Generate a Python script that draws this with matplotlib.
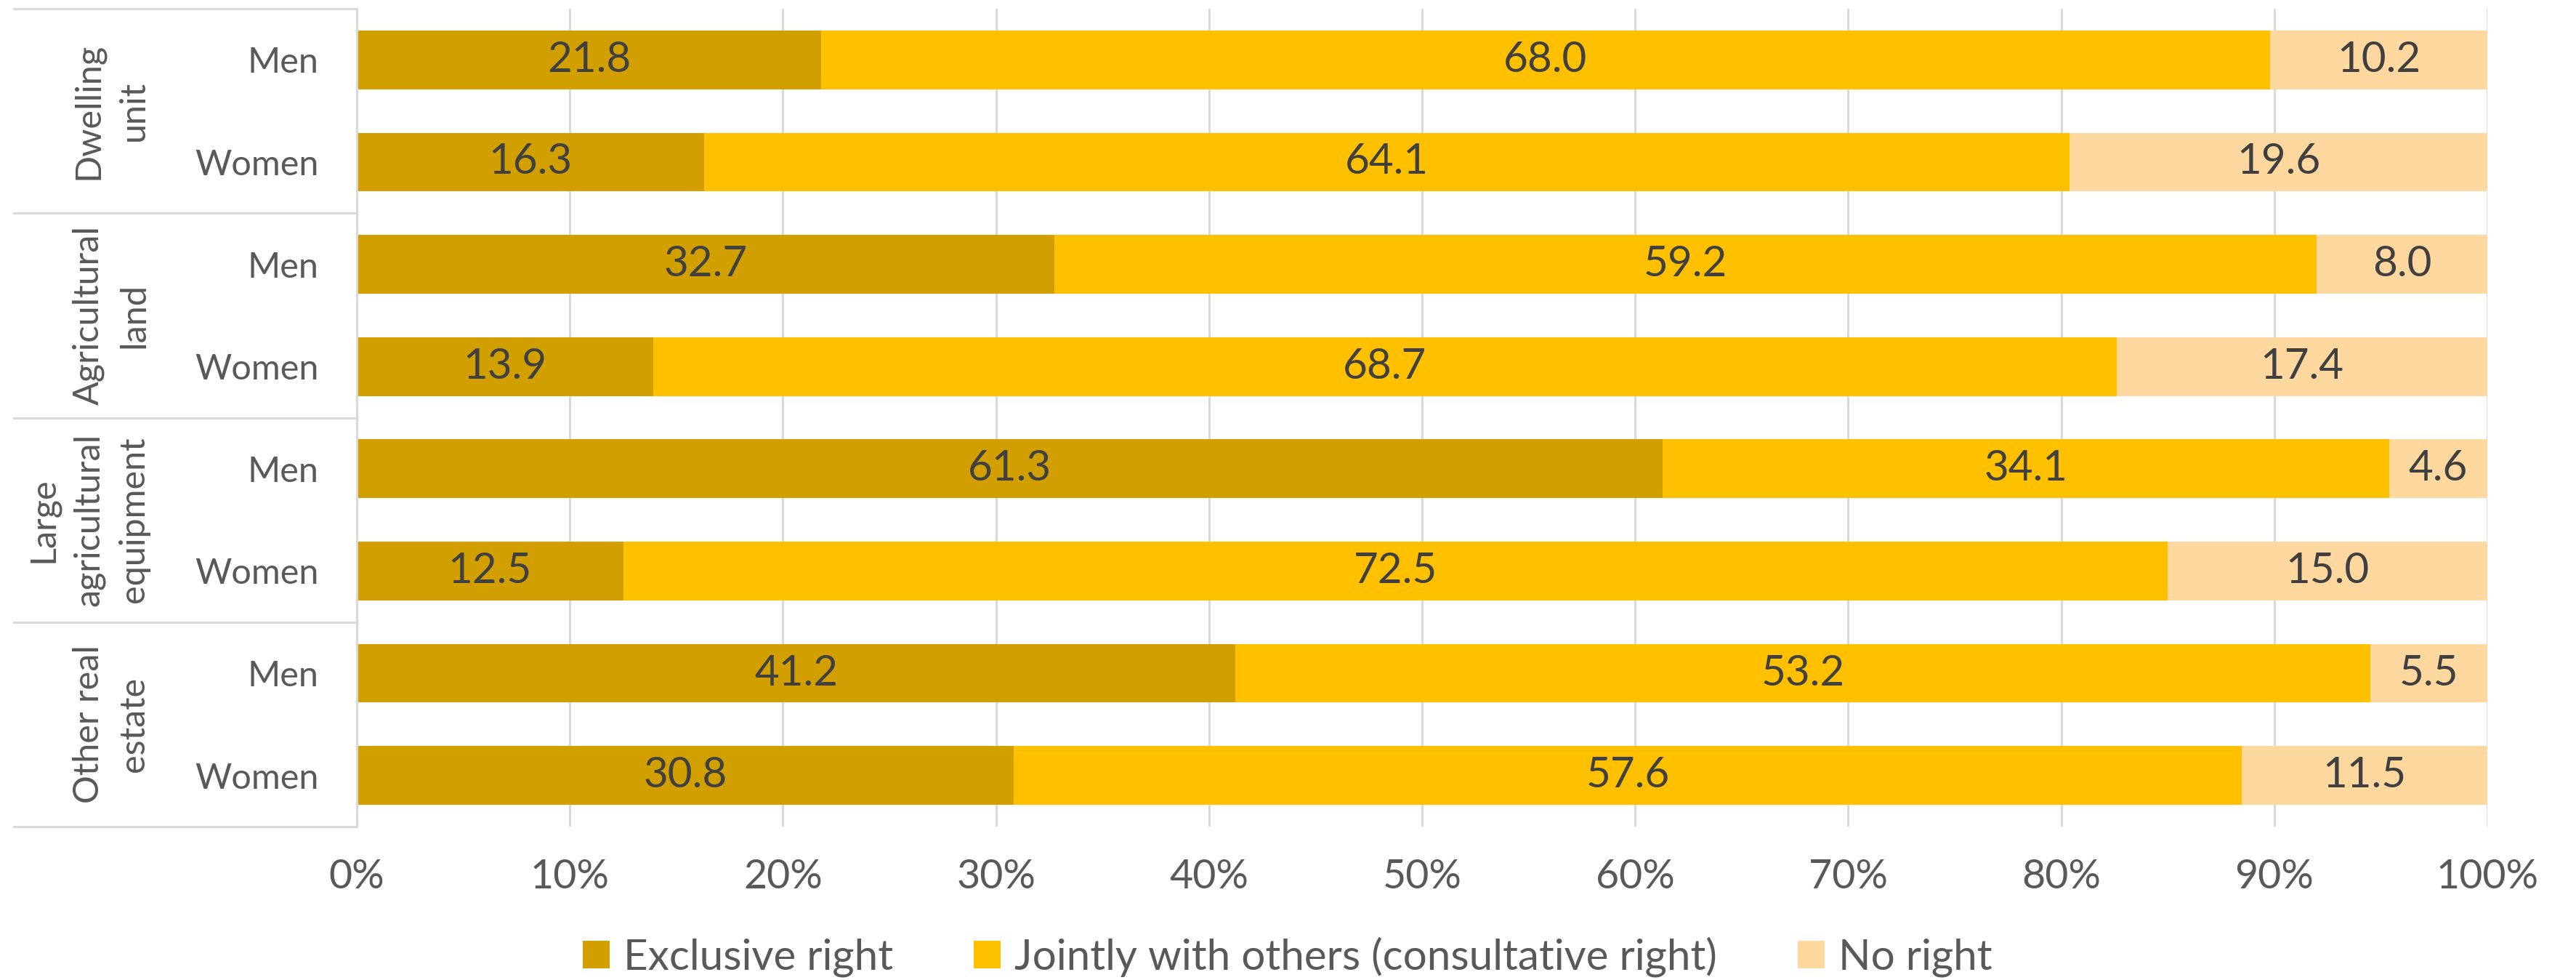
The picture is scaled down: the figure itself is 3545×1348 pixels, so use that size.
import matplotlib
matplotlib.use("Agg")
import matplotlib.pyplot as plt
import matplotlib.transforms as mtransforms
from matplotlib.lines import Line2D
from matplotlib.patches import Patch
import numpy as np

plt.rcParams['font.family'] = ['Lato', 'DejaVu Sans']

groups = ["Dwelling\nunit", "Agricultural\nland", "Large\nagricultural\nequipment", "Other real\nestate"]
sexes = ["Men", "Women"]
series_names = ["Exclusive right", "Jointly with others (consultative right)", "No right"]
exclusive = [21.8, 16.3, 32.7, 13.9, 61.3, 12.5, 41.2, 30.8]
jointly = [68.0, 64.1, 59.2, 68.7, 34.1, 72.5, 53.2, 57.6]
no_right = [10.2, 19.6, 8.0, 17.4, 4.6, 15.0, 5.5, 11.5]
xticks = [0, 10, 20, 30, 40, 50, 60, 70, 80, 90, 100]
xtick_labels = [f"{t}%" for t in xticks]

colors = ["#D29F00", "#FFC000", "#FFD8A0"]
W, H = 3545, 1348
dpi = 100
fig = plt.figure(figsize=(W / dpi, H / dpi), dpi=dpi)
ax_left, ax_right, ax_top, ax_bot = 491, 3423, 12, 1137
ax = fig.add_axes([ax_left / W, 1 - ax_bot / H, (ax_right - ax_left) / W, (ax_bot - ax_top) / H])

data = np.array([exclusive, jointly, no_right])
totals = data.sum(axis=0)
pct = data / totals * 100
n = data.shape[1]
y = np.arange(n)
left = np.zeros(n)
for i in range(3):
    ax.barh(y, pct[i], left=left, height=0.575, color=colors[i], zorder=2, edgecolor='none')
    for j in range(n):
        ax.text(left[j] + pct[i][j] / 2, y[j], f"{data[i][j]:.1f}", ha='center', va='center',
                fontsize=42, color='#404040', zorder=3)
    left += pct[i]

ax.set_xlim(0, 100)
ax.set_ylim(n - 0.5, -0.5)
ax.set_xticks(xticks)
ax.set_xticklabels(xtick_labels, fontsize=40, color='#595959')
ax.tick_params(axis='x', length=0, pad=32)
ax.set_yticks(y)
ax.set_yticklabels([sexes[k % 2] for k in range(n)], fontsize=35, color='#595959')
ax.tick_params(axis='y', length=0, pad=38)
for s in ['top', 'right', 'bottom']:
    ax.spines[s].set_visible(False)
ax.spines['left'].set_color('#D9D9D9')
ax.spines['left'].set_linewidth(2.2)
ax.xaxis.grid(True, color='#D9D9D9', linewidth=2.2, zorder=0)
ax.set_axisbelow(True)

trans = mtransforms.blended_transform_factory(fig.transFigure, ax.transData)
for b in [-0.5, 1.5, 3.5, 5.5, 7.5]:
    ax.add_line(Line2D([19 / W, ax_left / W], [b, b], transform=trans, color='#D9D9D9',
                       linewidth=2.2, clip_on=False))
for g, name in enumerate(groups):
    ax.text(206 / W, 2 * g + 0.5, name, transform=trans, rotation=90, ha='right', va='center',
            multialignment='center', fontsize=35, color='#595959', linespacing=1.5)

handles = [Patch(facecolor=c, edgecolor='none') for c in colors]
fig.legend(handles, series_names, loc='center', bbox_to_anchor=(1772 / W, 1 - 1316 / H), ncol=3,
           frameon=False, fontsize=42, handlelength=0.63, handleheight=0.63, handletextpad=0.33,
           columnspacing=1.9, labelcolor='#595959')

fig.savefig("out.png", dpi=dpi, facecolor='white')
